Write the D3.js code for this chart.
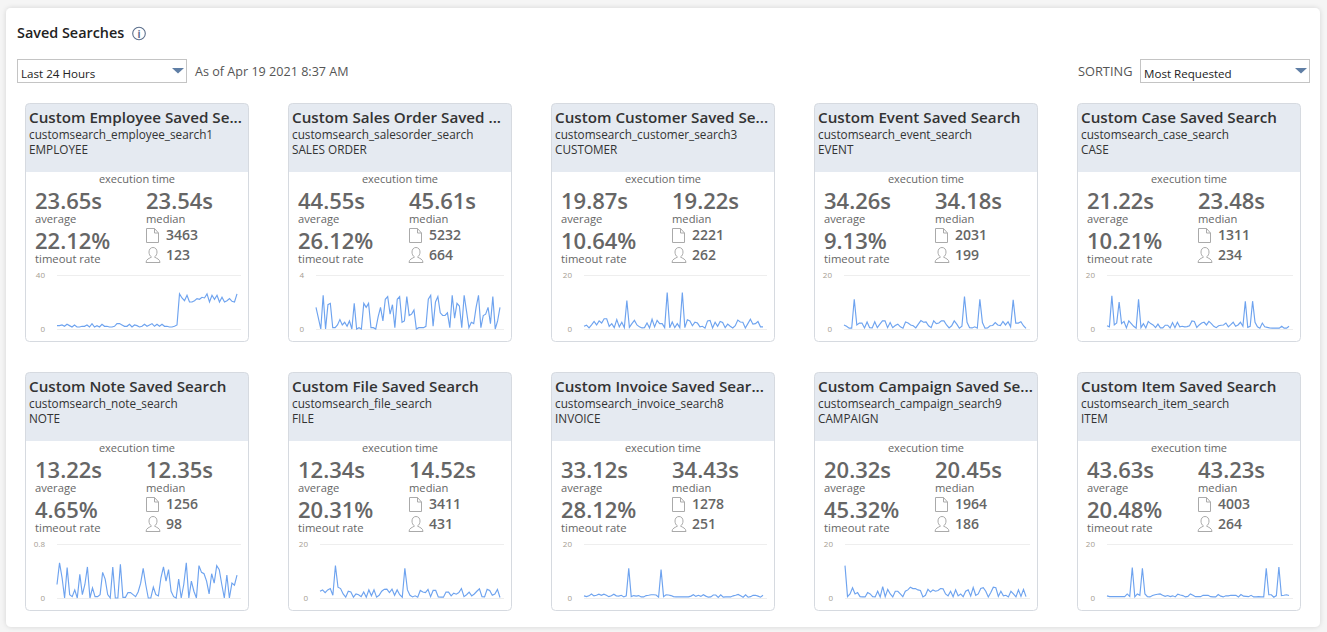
<!DOCTYPE html>
<html><head><meta charset="utf-8">
<script src="https://cdn.jsdelivr.net/npm/d3@7"></script>
<style>
html,body{margin:0;padding:0;background:#f5f5f5;overflow:hidden}
svg{display:block;font-family:"Open Sans",sans-serif}
</style></head><body><svg id="c" width="1327" height="632"></svg>
<script>
const titles=["Custom Employee Saved Se...","Custom Sales Order Saved ...","Custom Customer Saved Se...","Custom Event Saved Search","Custom Case Saved Search","Custom Note Saved Search","Custom File Saved Search","Custom Invoice Saved Sear...","Custom Campaign Saved Se...","Custom Item Saved Search"];
const scriptIds=["customsearch_employee_search1","customsearch_salesorder_search","customsearch_customer_search3","customsearch_event_search","customsearch_case_search","customsearch_note_search","customsearch_file_search","customsearch_invoice_search8","customsearch_campaign_search9","customsearch_item_search"];
const recordTypes=["EMPLOYEE","SALES ORDER","CUSTOMER","EVENT","CASE","NOTE","FILE","INVOICE","CAMPAIGN","ITEM"];
const averages=["23.65s","44.55s","19.87s","34.26s","21.22s","13.22s","12.34s","33.12s","20.32s","43.63s"];
const medians=["23.54s","45.61s","19.22s","34.18s","23.48s","12.35s","14.52s","34.43s","20.45s","43.23s"];
const timeouts=["22.12%","26.12%","10.64%","9.13%","10.21%","4.65%","20.31%","28.12%","45.32%","20.48%"];
const requests=[3463,5232,2221,2031,1311,1256,3411,1278,1964,4003];
const usersCount=[123,664,262,199,234,98,431,251,186,264];
const axisMax=[40,4,20,20,20,0.8,20,20,20,20];
const s0=[2.5,2.5,3,2,3.5,2.5,1.5,3,1.5,1.5,2,2,3,1.5,4,1.5,2.5,1.5,3.5,2,2,1.5,1.5,2,4,4,3,2,2,3.5,1.5,3,2.5,1.5,2,3.5,2,3,4,2,3.5,2,3.5,2,2,1.5,1.5,2,3,26,23,21,25,20,20,21,22.5,22,23.5,23,26,20,25,22,25,20,23.5,20,21,22.5,20.5,20,26];
const s1=[1.6,0.8,0,2.5,0,1.8,1.9,0.1,0.1,0.3,0.7,0.3,0.5,0.2,0.6,0,1.9,0,0.1,0,1.9,1.6,1.9,0.1,0.1,0,0.9,1.6,0.6,2.2,2.4,1.1,1.8,0.1,2.2,2.4,0.5,0.6,2.4,1,1.1,1.4,0,0.1,0.1,0.1,0.2,2.2,2.5,0.2,2,2.4,1.2,1,1,1.2,0.1,2.5,0.8,1.9,1.7,0.1,2.5,1.3,0.1,0.5,0.4,1.6,2.5,0.1,1,1.1,1.6,0.4,2.4,0,0.6,1.6];
const s2=[1,1.4,0.4,1.5,2.8,1.5,3,2.2,3.8,3.8,1,2,0.5,3.5,0.8,2.5,0.5,10.5,0.6,2,3.2,1.5,0.8,0.4,0.5,2.2,0.4,3.6,0.8,3.2,2,2,0.5,13.5,0.5,2.6,0.5,2,0.5,13.5,0.5,3.4,3,1.2,2.5,2.2,0.8,1,0.3,3,3.2,0.4,2.5,1,2.8,2.4,0.5,1.8,1,0.4,1.2,3.3,2.6,2.5,0.4,2,3.6,1.8,2,2.8,0.8,0.8];
const s3=[1.5,1,0.3,0.3,11,1.5,2.2,2.2,0.4,2.6,0.5,0.4,2.7,0.5,1.8,3,3,0.5,2.4,0.5,1.3,1.8,0.8,0.3,2.6,2.2,1.5,1.2,0.4,1.8,3.1,2.5,2.6,1.2,0.5,3,2,2.2,3,3,1.5,0.4,1.2,3,1.8,0.3,1,12,2.5,0.5,0.4,0.8,0.3,11,2.4,0.3,0.4,1.2,1.3,2.4,1.5,1.3,2.8,1.5,2.7,0.8,10.8,2.2,2.2,2.7,1.2,0.2];
const s4=[1.2,0.8,12.3,1.5,2.2,10,2,2.8,0.4,3,2,1,0.3,11,0.5,2,0.4,2.8,2,1.5,0.5,1.8,0.4,0.4,1.4,1.4,0.4,2.4,0.5,2.5,0.8,1,0.8,0.9,1.2,3,2.8,0.6,1.5,2.2,2.5,1.5,2.8,2,1,0.5,1.2,1.4,1.5,2.2,0.8,1.6,2.5,1,1.5,2.5,1,10.3,0.6,1,10.3,2.5,0.8,0.3,2.2,0.8,0.6,0.4,0.3,0.3,0.3,0.3,1,0.3,0.3,1];
const s5=[0.2,0.52,0.3,0,0.45,0.05,0.02,0.12,0,0.35,0.05,0.2,0.46,0,0.15,0.02,0.02,0.05,0.38,0.28,0.05,0,0.46,0,0,0.5,0.01,0.01,0.08,0.08,0.05,0.02,0.09,0.22,0.44,0.2,0,0,0.16,0.05,0.03,0.3,0.46,0.25,0.42,0.1,0.02,0,0.28,0,0.2,0.52,0,0.25,0.1,0,0.48,0.38,0.36,0.25,0.06,0.36,0.22,0.48,0.42,0.2,0,0.34,0,0.22,0.19,0.34];
const s6=[2.5,3,2,3,3.5,1,12,4,3.5,1.5,0.3,2.5,2.2,0.3,1.5,1.2,0.5,2.2,0.3,3,0.8,3,0.3,1,2.5,3.2,3.3,2,3.3,1,3,1.2,0.3,11,3,1,0.4,0.8,0.3,2.8,2.2,2,3.2,0.5,2.8,2.8,0.4,0.3,0.3,2.2,2.2,0.8,1.8,1.4,2,3.5,0.5,1.2,2.2,0.8,1.5,2.5,3.4,0.5,0.4,3.2,2.8,1,1.5,3.2,0.2];
const s7=[0.8,0.5,0.8,1.5,0.8,1,1.4,1,1.4,1,0.5,0.8,1.4,0.8,0.7,1,0.4,0.8,11,0.5,0.9,0.7,0.9,0.4,0.4,0.9,1,1.2,1.2,1.1,0.3,10.5,0.5,1.2,1.1,0.9,0.5,0.4,0.4,0.4,0.4,0.4,0.4,0.7,1.2,0.6,1,0.6,1.2,0.7,0.3,0.4,1.1,1.1,0.2,1.2,0.3,0.4,0.4,0.4,0.8,1,1.3,0.8,0.3,1.2,0.3,0.5,1,1,0.7,0.3,1];
const s8=[12,0.5,1.5,3.8,1.5,2,0.5,0.4,0.4,2,1.5,0.5,0.4,2.5,0.4,4.2,0.5,3.2,1.5,0.4,2.5,2.5,1.5,0.5,2.5,3,4,3.5,3.5,3,2.8,0.4,1,3.2,2.2,3,2.5,2.8,3.5,3.4,1.5,0.8,2.5,0.5,3,0.8,1.5,0.5,2.5,3,0.7,3.9,1,1.5,3.5,3.8,2.5,0.4,2,4,3.8,0.6,2.5,0.8,1,0.4,2.5,1.5,0.4,3,0.6,3.2,0.5];
const s9=[0.8,0.5,0.5,0.5,0.5,0.5,0.5,0.5,1.5,0.6,11.3,0.4,1.5,1,11,1.5,0.5,0.4,0.9,1.2,1.4,1.5,1,0.6,0.9,0.5,0.8,0.4,1.4,1.1,0.9,0.4,0.6,1.5,1,0.5,0.5,0.5,1,1,1,0.5,0.4,0.4,1.3,0.7,0.4,0.8,0.8,1,1,1,0.4,1.3,0.7,0.6,0.5,1,0.4,0.4,0.5,0.4,0.4,11,1.2,1.2,0.3,0.9,11.5,0.9,1,1.2,0.9];
const seriesList=[s0,s1,s2,s3,s4,s5,s6,s7,s8,s9];
const plotInsets=[32,28,33,30,30,32,32,33,31,30];

const svg=d3.select("#c");
const defs=svg.append("defs");
const f=defs.append("filter").attr("id","sh").attr("x","-2%").attr("y","-2%").attr("width","104%").attr("height","104%");
f.append("feDropShadow").attr("dx",0).attr("dy",0).attr("stdDeviation",2.5).attr("flood-color","#000").attr("flood-opacity",0.14);
svg.append("rect").attr("x",6).attr("y",8).attr("width",1314).attr("height",619).attr("rx",5).attr("fill","#fff").attr("filter","url(#sh)");

function txt(g,x,y,s,size,color,weight,anchor){
  return g.append("text").attr("x",x).attr("y",y).text(s).attr("font-size",size).attr("fill",color)
    .attr("font-weight",weight||400).attr("text-anchor",anchor||"start");
}
txt(svg,17,38,"Saved Searches",14.4,"#222",600);
svg.append("circle").attr("cx",139).attr("cy",33.5).attr("r",6.3).attr("fill","none").attr("stroke","#5b6f8c").attr("stroke-width",1.1);
txt(svg,139,37.5,"i",10,"#5b6f8c",700,"middle");

function selectBox(x,label){
  svg.append("rect").attr("x",x+.5).attr("y",59.5).attr("width",169).attr("height",23).attr("fill","#fff").attr("stroke","#c4c4c4");
  txt(svg,x+4,78,label,11.6,"#222");
  svg.append("path").attr("d",`M${x+155} 68h12l-6 5.5z`).attr("fill","#5f7ea5");
}
selectBox(17,"Last 24 Hours");
txt(svg,195,76,"As of Apr 19 2021 8:37 AM",12.6,"#555");
txt(svg,1078,76,"SORTING",12.8,"#555");
selectBox(1140,"Most Requested");

const cardX=[25,288,551,814,1077], cardY=[103,372], cw=224, ch=239;
titles.forEach((t,i)=>{
  const x0=cardX[i%5], y0=cardY[Math.floor(i/5)];
  const g=svg.append("g").attr("transform",`translate(${x0},${y0})`);
  g.append("rect").attr("x",.5).attr("y",.5).attr("width",cw-1).attr("height",ch-1).attr("rx",4).attr("fill","#fff");
  g.append("path").attr("d",`M.5 69V4.5a4 4 0 0 1 4-4H${cw-4.5}a4 4 0 0 1 4 4V69z`).attr("fill","#e5eaf1");
  g.append("rect").attr("x",.5).attr("y",.5).attr("width",cw-1).attr("height",ch-1).attr("rx",4).attr("fill","none").attr("stroke","#d6dae0");
  txt(g,4,20,t,15.2,"#333",600);
  txt(g,4,36,scriptIds[i],11.75,"#333");
  txt(g,4,51,recordTypes[i],11.75,"#333");
  txt(g,112,80,"execution time",11,"#666",400,"middle");
  txt(g,10,106,averages[i],22,"#666",600);
  txt(g,121,106,medians[i],22,"#666",600);
  txt(g,10,120,"average",11.2,"#666");
  txt(g,121,120,"median",11.2,"#666");
  txt(g,10,146,timeouts[i],22,"#666",600);
  txt(g,10,160,"timeout rate",11.3,"#666");
  // document icon
  g.append("path").attr("d","M121.5 125.5h8l4 4.5v9.5h-12zM129.5 125.5v4.5h4").attr("fill","none").attr("stroke","#aaa").attr("stroke-width",1);
  txt(g,141,137,requests[i],14,"#666",600);
  // user icon
  g.append("path").attr("d","M121 159.5c0-3.5 3.5-4 5.5-5.5-1.7-1-2.5-3-2.5-5 0-2.6 1.5-4.5 4-4.5s4 1.9 4 4.5c0 2-.8 4-2.5 5 2 1.5 5.5 2 5.5 5.5z").attr("fill","none").attr("stroke","#aaa").attr("stroke-width",1);
  txt(g,141,157,usersCount[i],14,"#666",600);

  // sparkline
  const left=plotInsets[i], right=212;
  const y=d3.scaleLinear().domain([0,axisMax[i]]).range([226,172]);
  const x=d3.scaleLinear().domain([0,seriesList[i].length-1]).range([left,right]);
  const ax=g.append("g").attr("transform",`translate(${left},0)`)
    .call(d3.axisLeft(y).tickValues([0,axisMax[i]]).tickSize(-(216-left)).tickPadding(12).tickFormat(d=>String(d)));
  ax.select(".domain").remove();
  ax.selectAll("line").attr("stroke","#eeeeee");
  ax.selectAll("text").attr("font-size",8).attr("fill","#a59d92").attr("font-family","'Open Sans',sans-serif");
  const line=d3.line().x((d,k)=>x(k)).y(d=>y(d));
  g.append("path").datum(seriesList[i]).attr("d",line).attr("fill","none").attr("stroke","#6ea3ef").attr("stroke-width",1.15);
});
</script></body></html>
